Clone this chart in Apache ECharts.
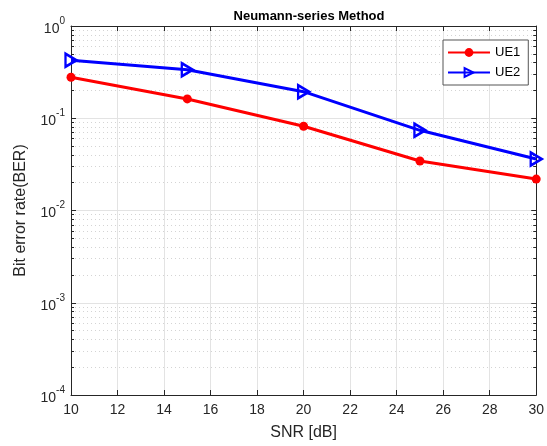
<!DOCTYPE html>
<html>
<head>
    <meta charset="utf-8" />
    <title>Neumann-series Method</title>
    <script type="text/javascript" src="https://cdn.jsdelivr.net/npm/echarts@6/dist/echarts.min.js"></script>
    <style>
        html, body { margin: 0; padding: 0; background: #fff; }
        #container { width: 547px; height: 446px; }
    </style>
</head>
<body>
<div id="container"></div>
<script type="text/javascript">
    // SNR values (dB)
    var snr = [10, 15, 20, 25, 30];
    // BER
    var ue1 = [0.278, 0.162, 0.0818, 0.0344, 0.0219];
    var ue2 = [0.425, 0.336, 0.194, 0.074, 0.0361];

    // minor ticks 2..9 inside each decade, in log10 space
    var minorLog = [];
    for (var n = -4; n < 0; n++) {
        for (var k = 2; k <= 9; k++) {
            minorLog.push(n + Math.log10(k));
        }
    }

    var font = 'Liberation Sans, Arial, Helvetica, sans-serif';
    var axisCol = '#262626';

    function pairs(xs, ys) {
        return xs.map(function (x, i) { return [x, ys[i]]; });
    }

    var myChart = echarts.init(document.getElementById('container'));

    var option = {
        animation: false,
        backgroundColor: '#fff',
        title: {
            text: 'Neumann-series Method',
            left: 304,
            textAlign: 'center',
            top: 5,
            textStyle: { fontFamily: font, fontSize: 13, fontWeight: 'bold', color: '#000' }
        },
        legend: {
            left: 443,
            top: 40,
            orient: 'vertical',
            itemWidth: 42,
            itemHeight: 11,
            itemGap: 7,
            padding: [6, 8, 6, 4],
            borderColor: '#555',
            borderWidth: 1,
            backgroundColor: '#fff',
            textStyle: { fontFamily: font, fontSize: 13, color: '#000' },
            data: ['UE1', 'UE2']
        },
        grid: { left: 71, right: 10, top: 26, bottom: 51, containLabel: false },
        xAxis: [
            {
                type: 'value', position: 'bottom', min: 10, max: 30, interval: 2,
                name: 'SNR [dB]', nameLocation: 'middle', nameGap: 30,
                nameTextStyle: { fontFamily: font, fontSize: 16, color: axisCol },
                axisLine: { onZero: false, lineStyle: { color: axisCol, width: 1 } },
                axisTick: { inside: true, length: 5, lineStyle: { color: axisCol } },
                axisLabel: { margin: 8, fontFamily: font, fontSize: 14, color: axisCol },
                splitLine: { show: true, lineStyle: { color: '#e3e3e3', width: 1 } }
            },
            {
                type: 'value', position: 'top', min: 10, max: 30, interval: 2,
                axisLine: { onZero: false, lineStyle: { color: axisCol, width: 1 } },
                axisTick: { inside: true, length: 5, lineStyle: { color: axisCol } },
                axisLabel: { show: false },
                splitLine: { show: false }
            }
        ],
        yAxis: [
            {
                type: 'log', logBase: 10, position: 'left', min: 1e-4, max: 1,
                name: 'Bit error rate(BER)', nameLocation: 'middle', nameGap: 42,
                nameTextStyle: { fontFamily: font, fontSize: 16, color: axisCol },
                axisLine: { onZero: false, lineStyle: { color: axisCol, width: 1 } },
                axisTick: { inside: true, length: 5, lineStyle: { color: axisCol } },
                axisLabel: {
                    margin: 6,
                    formatter: function (v) {
                        var e = Math.round(Math.log10(v));
                        return '{b|10}{s|' + e + '}';
                    },
                    rich: {
                        b: { fontFamily: font, fontSize: 14, color: axisCol, lineHeight: 20, verticalAlign: 'bottom' },
                        s: { fontFamily: font, fontSize: 10, color: axisCol, lineHeight: 20, verticalAlign: 'top' }
                    }
                },
                splitLine: { show: true, lineStyle: { color: '#e3e3e3', width: 1 } }
            },
            {
                type: 'log', logBase: 10, position: 'right', min: 1e-4, max: 1,
                axisLine: { onZero: false, lineStyle: { color: axisCol, width: 1 } },
                axisTick: { inside: true, length: 5, lineStyle: { color: axisCol } },
                axisLabel: { show: false },
                splitLine: { show: false }
            },
            {
                type: 'value', position: 'left', min: -4, max: 0,
                axisLine: { show: false },
                axisTick: { inside: true, length: 3, customValues: minorLog, lineStyle: { color: axisCol } },
                axisLabel: { show: false },
                splitLine: { show: true, lineStyle: { color: '#d4d4d4', width: 1, type: [1, 3] } }
            },
            {
                type: 'value', position: 'right', min: -4, max: 0,
                axisLine: { show: false },
                axisTick: { inside: true, length: 3, customValues: minorLog, lineStyle: { color: axisCol } },
                axisLabel: { show: false },
                splitLine: { show: false }
            }
        ],
        series: [
            {
                name: 'UE1', type: 'line', xAxisIndex: 0, yAxisIndex: 0,
                data: pairs(snr, ue1),
                symbol: 'circle', symbolSize: 9,
                lineStyle: { color: '#ff0000', width: 3 },
                itemStyle: { color: '#ff0000' },
                z: 5
            },
            {
                name: 'UE2', type: 'line', xAxisIndex: 0, yAxisIndex: 0,
                data: pairs(snr, ue2),
                symbol: 'triangle', symbolSize: [13, 11], symbolRotate: -90,
                lineStyle: { color: '#0000ff', width: 3 },
                itemStyle: { color: 'rgba(0,0,255,0)', borderColor: '#0000ff', borderWidth: 2.5 },
                z: 6
            }
        ]
    };

    myChart.setOption(option, true);
</script>
</body>
</html>
